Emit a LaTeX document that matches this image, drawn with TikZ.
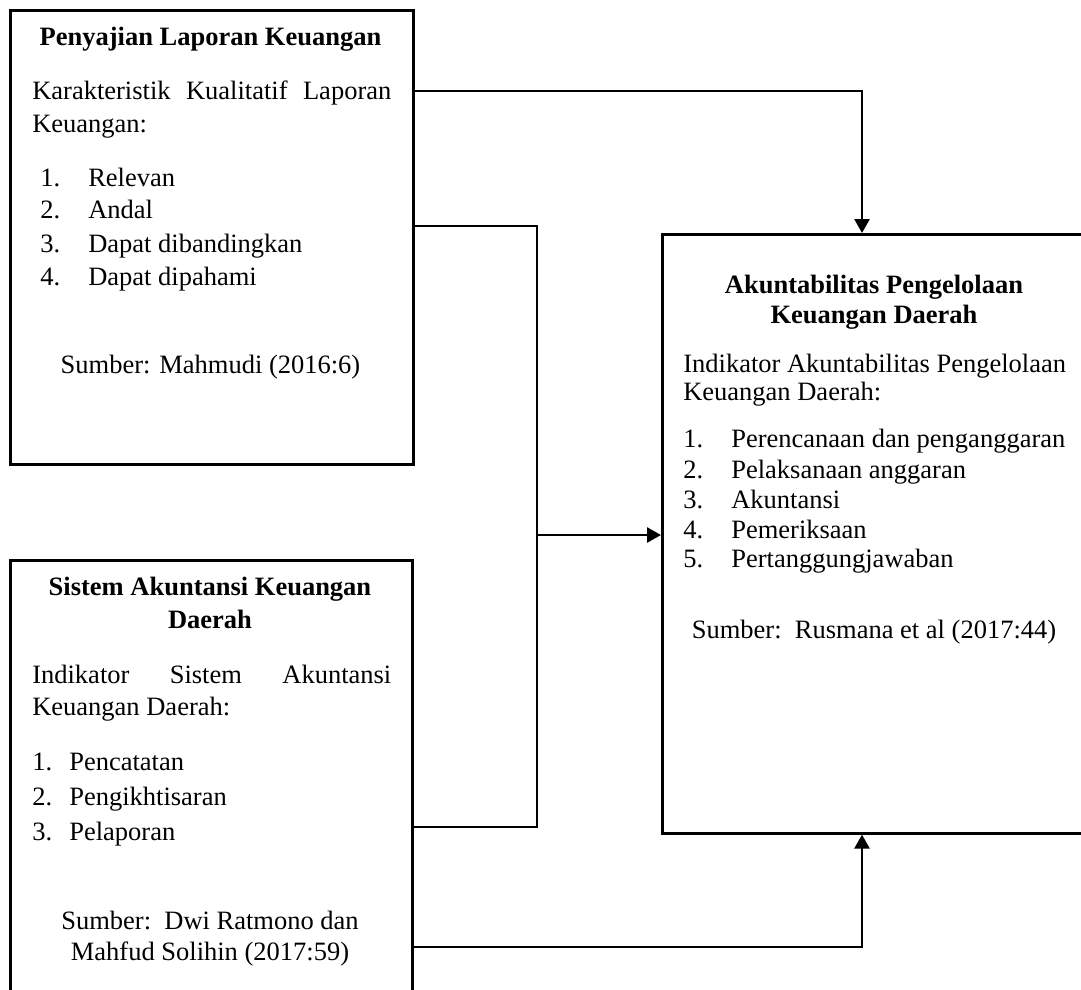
\documentclass[tikz,border=0pt]{standalone}
\usepackage{fontspec}
\setmainfont{Liberation Serif}
\usetikzlibrary{arrows.meta}

\begin{document}
\begin{tikzpicture}[
    x = 1pt,
    y = -1pt,
    line width = 2.6pt,
    >={Triangle[length=14pt,width=15pt]},
    kotak/.style = {
      draw,
      rectangle,
      anchor = north west,
      inner sep = 0pt
    },
    teks/.style = {
      anchor = base west,
      inner sep = 0pt,
      font = \fontsize{26.5}{33}\selectfont
    },
    tengah/.style = {
      teks,
      anchor = base
    },
    judul/.style = {
      tengah,
      font = \fontsize{26.5}{33}\selectfont\bfseries
    }
  ]
  \useasboundingbox (0,0) rectangle (1081,989);
  \clip (0,0) rectangle (1081,989);

  \node[kotak, minimum width=403pt, minimum height=454pt] (penyajian) at (9,9) {};
  \node[kotak, minimum width=402pt, minimum height=440pt] (sistem) at (9,559) {};
  \node[kotak, minimum width=426pt, minimum height=599pt] (akuntabilitas) at (661,233) {};

  % penyajian laporan keuangan
  \node[judul] (p-judul) at (210.5,45) {Penyajian Laporan Keuangan};
  \node[teks] (p-ket1) at (31,99) {\makebox[359pt][s]{Karakteristik Kualitatif Laporan}};
  \node[teks] (p-ket2) at (31,132) {Keuangan:};

  \node[teks] (p-n1) at (39,186) {1.};
  \node[teks] (p-n2) at (39,218) {2.};
  \node[teks] (p-n3) at (39,252) {3.};
  \node[teks] (p-n4) at (39,285) {4.};
  \node[teks] (p-i1) at (87,186) {Relevan};
  \node[teks] (p-i2) at (87,218) {Andal};
  \node[teks] (p-i3) at (87,252) {Dapat dibandingkan};
  \node[teks] (p-i4) at (87,285) {Dapat dipahami};

  \node[tengah] (p-sumber) at (210.5,373) {Sumber: Mahmudi (2016:6)};

  % sistem akuntansi keuangan daerah
  \node[judul] (s-judul1) at (210,595) {Sistem Akuntansi Keuangan};
  \node[judul] (s-judul2) at (210,628) {Daerah};
  \node[teks] (s-ket1) at (31,683) {\makebox[359pt][s]{Indikator Sistem Akuntansi}};
  \node[teks] (s-ket2) at (31,715) {Keuangan Daerah:};

  \node[teks] (s-n1) at (31,770) {1.};
  \node[teks] (s-n2) at (31,805) {2.};
  \node[teks] (s-n3) at (31,840) {3.};
  \node[teks] (s-i1) at (68,770) {Pencatatan};
  \node[teks] (s-i2) at (68,805) {Pengikhtisaran};
  \node[teks] (s-i3) at (68,840) {Pelaporan};

  \node[tengah] (s-sumber1) at (210,929) {Sumber:\ \ Dwi Ratmono dan};
  \node[tengah] (s-sumber2) at (210,960) {Mahfud Solihin (2017:59)};

  % akuntabilitas pengelolaan keuangan daerah
  \node[judul] (a-judul1) at (874,293) {Akuntabilitas Pengelolaan};
  \node[judul] (a-judul2) at (874,323) {Keuangan Daerah};
  \node[teks] (a-ket1) at (682,372) {Indikator Akuntabilitas Pengelolaan};
  \node[teks] (a-ket2) at (682,400) {Keuangan Daerah:};

  \node[teks] (a-n1) at (682,447) {1.};
  \node[teks] (a-n2) at (682,478) {2.};
  \node[teks] (a-n3) at (682,508) {3.};
  \node[teks] (a-n4) at (682,538) {4.};
  \node[teks] (a-n5) at (682,567) {5.};
  \node[teks] (a-i1) at (730,447) {Perencanaan dan penganggaran};
  \node[teks] (a-i2) at (730,478) {Pelaksanaan anggaran};
  \node[teks] (a-i3) at (730,508) {Akuntansi};
  \node[teks] (a-i4) at (730,538) {Pemeriksaan};
  \node[teks] (a-i5) at (730,567) {Pertanggungjawaban};

  \node[tengah] (a-sumber) at (874,638) {Sumber:\ \ Rusmana et al (2017:44)};

  % connectors
  \coordinate (sambung) at (537,535);

  \draw[->] (penyajian.east |- 0,91) -| (862,0 |- akuntabilitas.north);
  \draw (penyajian.east |- 0,226) -| (sambung) |- (sistem.east |- 0,827);
  \draw[->] (sambung) -- (akuntabilitas.west |- sambung);
  \draw[->] (sistem.east |- 0,947) -| (862,0 |- akuntabilitas.south);
\end{tikzpicture}
\end{document}
